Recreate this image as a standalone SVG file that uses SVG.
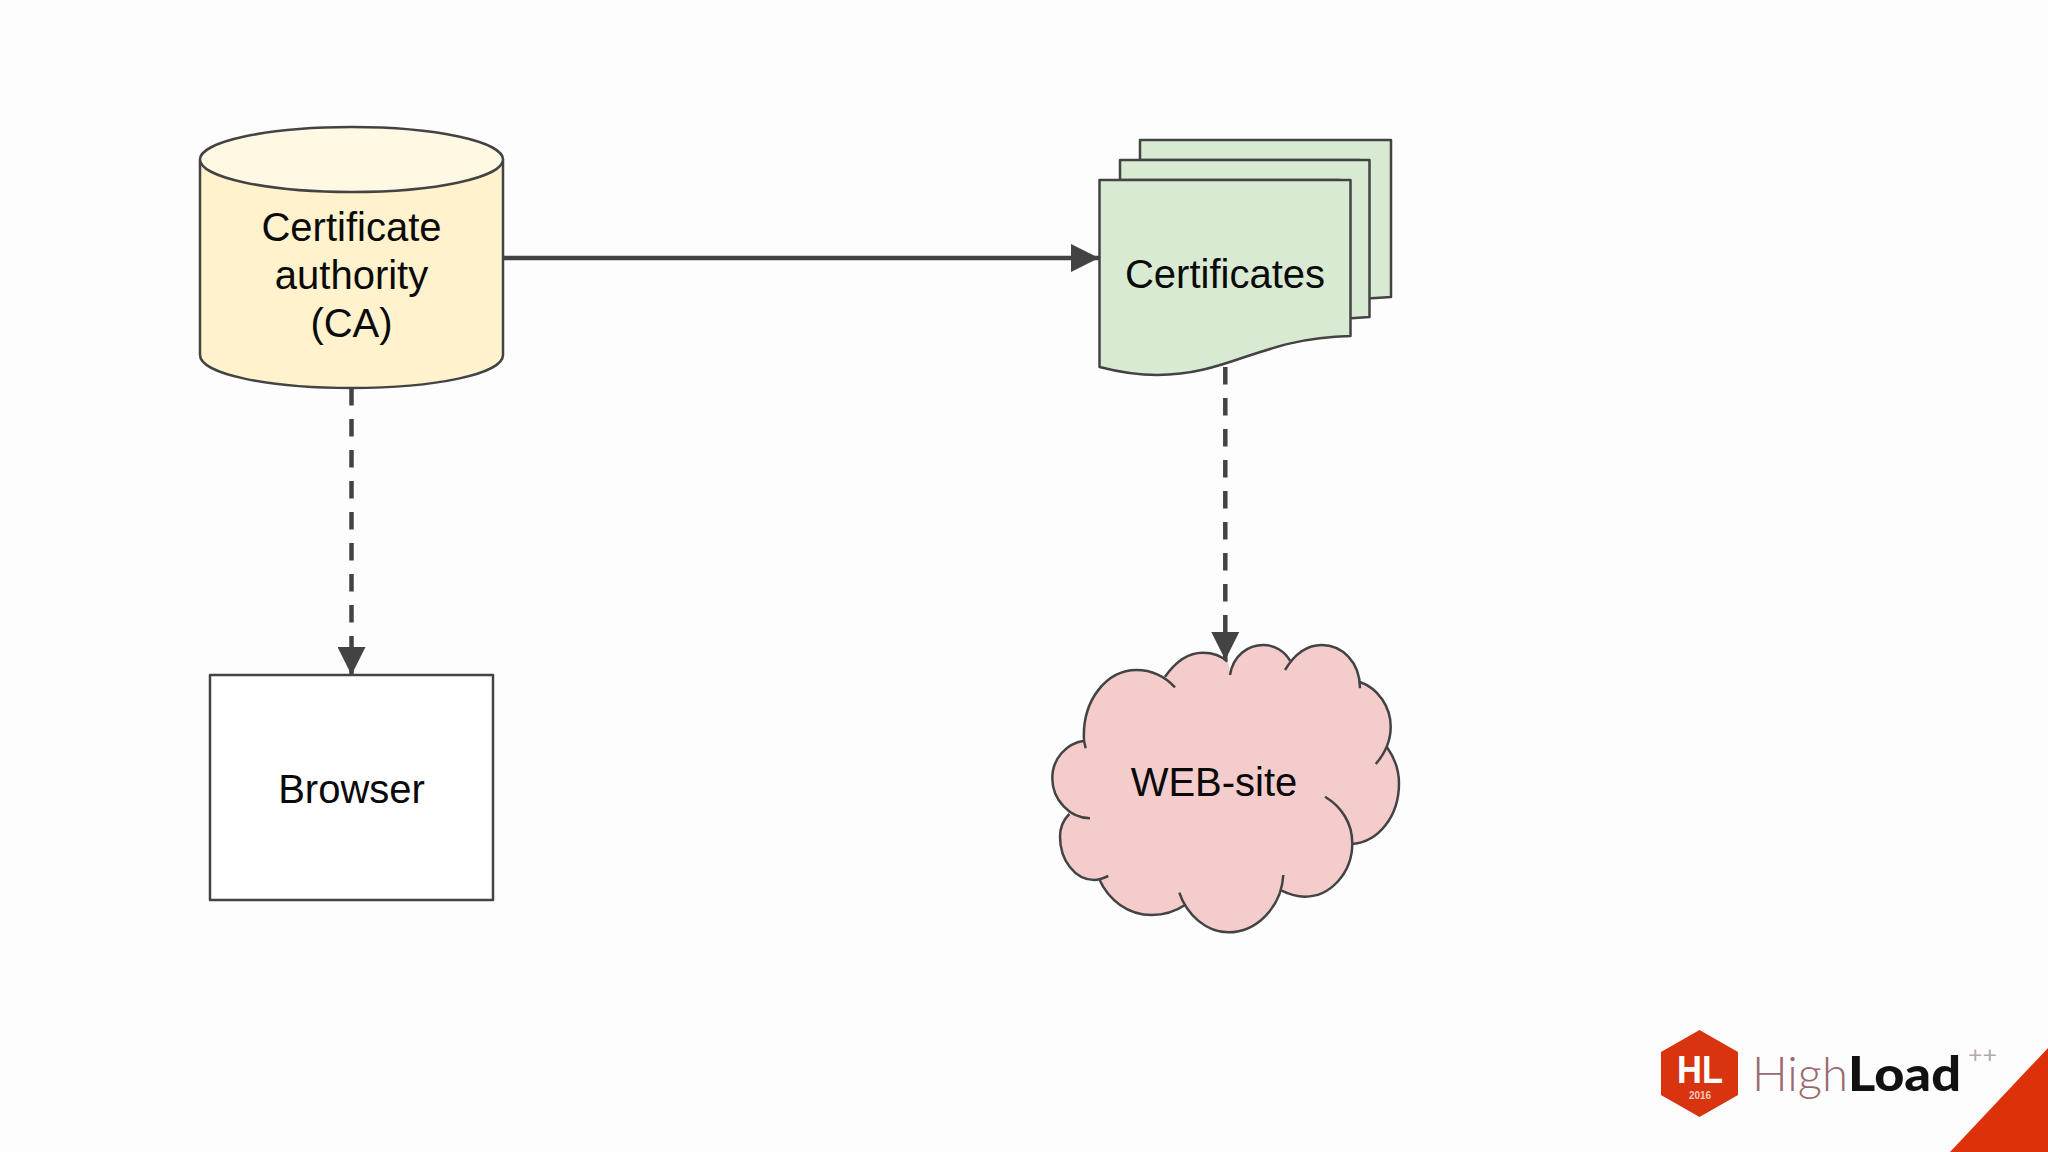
<svg xmlns="http://www.w3.org/2000/svg" width="2048" height="1152" viewBox="0 0 2048 1152">
<style>
.s{stroke:#434343;stroke-width:2.5;stroke-linejoin:round}
.t{font-family:"Liberation Sans",Arial,sans-serif;font-size:40px;fill:#0a0a0a;text-anchor:middle}
.c{fill:none;stroke:#434343;stroke-width:4.5}
.d{stroke-dasharray:17.500 13.500}
</style>
<defs>
<marker id="arrow" markerUnits="userSpaceOnUse" markerWidth="28" markerHeight="28" refX="28" refY="14" orient="auto"><path d="M0 0L28 14L0 28Z" fill="#434343"/></marker>
<path id="lobes" d="M1084 741C1081.700 700 1106.700 670 1136.700 670C1151.700 670 1165 676.700 1175 687.300M1165 676.700C1176.700 660 1190 652.700 1202.700 652.700C1213.300 652.700 1221.700 656 1227.300 661.700M1230 675C1233.300 655 1248.300 645 1263.300 645C1275 645 1285 651.700 1290 660.700M1285 670C1295 653.300 1308.300 645 1321.700 645C1341.700 645 1360 661.700 1360 688.300M1359.300 681.700C1378.300 688.300 1390.700 706.700 1390.700 726.700C1390.700 741.700 1385 753.300 1375.700 764M1386.700 746.700C1395 758.300 1399 770 1399 783.300C1399 816.700 1378.300 841.700 1352.700 844M1325 796.700C1341.700 806.700 1352.300 823.300 1352.300 843.300C1352.300 873.300 1330 896.700 1305 896.700C1296.700 896.700 1288.300 894 1281.700 890.700M1283.300 875C1281.700 906.700 1256.700 932.300 1228.300 932.300C1206.700 932.300 1186.700 915 1179.300 892.700M1185 905C1175 911.700 1163.300 915 1151.700 915C1128.300 915 1108.300 900 1099.300 879.300M1108.300 876C1103.300 878.300 1098.300 880 1094 880C1075 880 1060 860 1060 836.700C1060 828.300 1063.300 820 1069.300 814M1090 818.300C1070 818.300 1052.300 800 1052.300 778.300C1052.300 758.300 1066.700 743.300 1084 740.700L1085.700 748.300"/>
</defs>
<rect width="2048" height="1152" fill="#fdfdfd"/>
<g id="certificate-authority">
<path class="s" fill="#fff2cc" d="M200 160V355C200 374 268 388 351.500 388S503 374 503 355V160Z"/>
<ellipse class="s" fill="#fff8e3" cx="351.500" cy="159.500" rx="151.500" ry="32.500"/>
<text class="t" x="351.500" y="241">Certificate</text>
<text class="t" x="351.500" y="289">authority</text>
<text class="t" x="351.500" y="337">(CA)</text>
</g>
<g id="certificates">
<path class="s" fill="#d9ead3" d="M1140 140H1391V297L1360 299V160H1140Z"/>
<path class="s" fill="#d9ead3" d="M1120 160H1369.500V317L1340 319V180H1120Z"/>
<path class="s" fill="#d9ead3" d="M1099.500 180H1350.500V336C1260 338 1230 375 1157 375C1135 375 1115 371 1099.500 367Z"/>
<text class="t" x="1225" y="288">Certificates</text>
</g>
<g id="browser">
<rect class="s" fill="#ffffff" x="210" y="675" width="283" height="225"/>
<text class="t" x="351.500" y="803">Browser</text>
</g>
<g id="web-site">
<use href="#lobes" fill="#f4cccc"/>
<path fill="#f4cccc" stroke="#f4cccc" stroke-width="2" d="M1084 741L1165 677L1227 662L1230 675L1290 661L1285 670L1360 682L1387 747L1353 844L1282 891L1185 905L1099 879L1069 814Z"/>
<use href="#lobes" fill="none" class="s"/>
<text class="t" x="1214" y="796">WEB-site</text>
</g>
<g id="connectors">
<line class="c" x1="503" y1="258" x2="1099" y2="258" marker-end="url(#arrow)"/>
<line class="c d" x1="351.500" y1="388" x2="351.500" y2="675" marker-end="url(#arrow)"/>
<line class="c d" x1="1225.300" y1="367" x2="1225.300" y2="660" marker-end="url(#arrow)"/>
</g>
<g id="logo">
<path d="M2048 1048V1152H1950Z" fill="#dd3209"/>
<path d="M1699.500 1030L1738 1052V1095L1699.500 1117L1661 1095V1052Z" fill="#d8340f"/>
<text x="1700" y="1083" font-family="'Liberation Sans',sans-serif" font-weight="700" font-size="39" fill="#fff" text-anchor="middle" textLength="46" lengthAdjust="spacingAndGlyphs">HL</text>
<text x="1700" y="1099" font-family="'Liberation Sans',sans-serif" font-weight="700" font-size="10" fill="#f5c8bb" text-anchor="middle">2016</text>
<text x="1752" y="1091" font-family="Lato,sans-serif" font-weight="300" font-size="47" fill="#9a6a70" textLength="96" lengthAdjust="spacingAndGlyphs">High</text>
<text x="1848" y="1091" font-family="Lato,sans-serif" font-weight="900" font-size="47" fill="#111" textLength="113" lengthAdjust="spacingAndGlyphs">Load</text>
<text x="1968" y="1063" font-family="Lato,sans-serif" font-size="24" fill="#b5aaa8" textLength="29" lengthAdjust="spacingAndGlyphs">++</text>
</g>
</svg>
